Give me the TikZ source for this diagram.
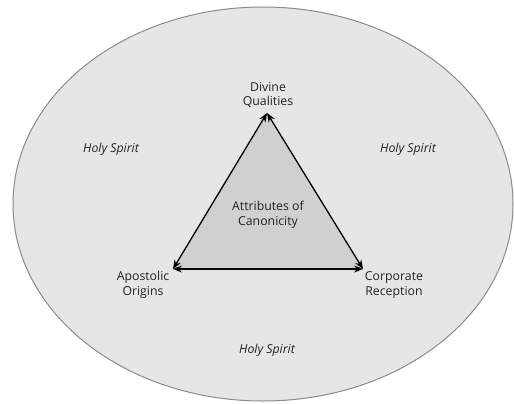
\documentclass[tikz,border=0pt]{standalone}
\usepackage{fontspec}
\setmainfont{Open Sans}
\usetikzlibrary{arrows.meta}
\definecolor{ellfill}{HTML}{E6E6E6}
\definecolor{ellline}{HTML}{8A8A8A}
\definecolor{trifill}{HTML}{D0D0D0}
\definecolor{txt}{HTML}{222222}
\begin{document}
\begin{tikzpicture}[x=1pt,y=-1pt,
  lbl/.style={font=\fontsize{12.3}{14.5}\selectfont, text=txt, align=center, inner sep=0pt},
  spirit/.style={font=\fontsize{12.3}{14.5}\selectfont\itshape, text=txt, inner sep=0pt},
  arr/.style={line width=1.3pt, draw=black, {Stealth[length=9pt,width=7pt]}-{Stealth[length=9pt,width=7pt]}}]
\useasboundingbox (0,0) rectangle (514,404);
\draw[fill=ellfill, draw=ellline, line width=1pt] (263,204) ellipse [x radius=250, y radius=197];
\coordinate (T) at (267,113);
\coordinate (L) at (173,269);
\coordinate (R) at (363,269);
\fill[trifill] (T) -- (L) -- (R) -- cycle;
\draw[arr] (L) -- (T);
\draw[arr] (R) -- (T);
\draw[arr] (L) -- (R);
\node[lbl] (dq) at (268,95) {Divine\\Qualities};
\node[lbl] (ac) at (268,215) {Attributes of\\Canonicity};
\node[lbl] (ao) at (143,285) {Apostolic\\Origins};
\node[lbl] (cr) at (394,285) {Corporate\\Reception};
\node[spirit] (hs1) at (111,149) {Holy Spirit};
\node[spirit] (hs2) at (408,149) {Holy Spirit};
\node[spirit] (hs3) at (267,350) {Holy Spirit};
\end{tikzpicture}
\end{document}
